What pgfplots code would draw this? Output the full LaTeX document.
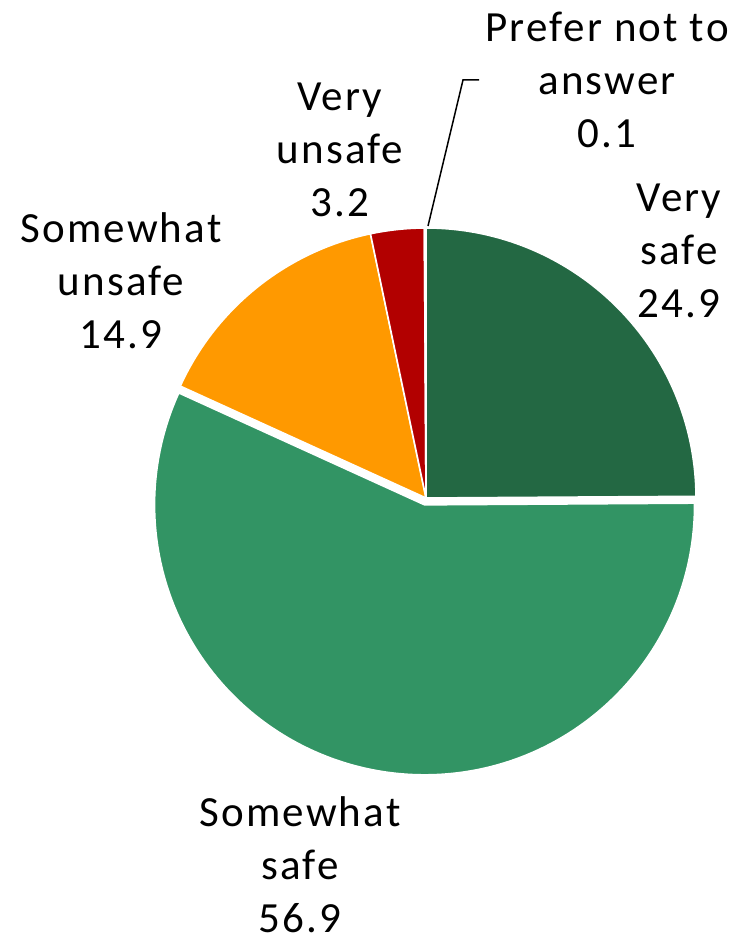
\documentclass[border=0pt]{standalone}
\usepackage{fontspec}
\setmainfont{Carlito}[LetterSpace=5]
\usepackage{pgfplots}
\usepackage{pgfplotstable}
\pgfplotsset{compat=1.18}

\definecolor{vsafe}{HTML}{236843}
\definecolor{swsafe}{HTML}{329464}
\definecolor{swunsafe}{HTML}{FF9900}
\definecolor{vunsafe}{HTML}{B20000}
\definecolor{pnta}{HTML}{7F7F7F}

\pgfplotstableread[col sep=comma]{
name,value
Very safe,24.9
Somewhat safe,56.9
Somewhat unsafe,14.9
Very unsafe,3.2
Prefer not to answer,0.1
}\piedata

\pgfplotstablegetelem{0}{value}\of\piedata \xdef\vA{\pgfplotsretval}
\pgfplotstablegetelem{1}{value}\of\piedata \xdef\vB{\pgfplotsretval}
\pgfplotstablegetelem{2}{value}\of\piedata \xdef\vC{\pgfplotsretval}
\pgfplotstablegetelem{3}{value}\of\piedata \xdef\vD{\pgfplotsretval}
\pgfplotstablegetelem{4}{value}\of\piedata \xdef\vE{\pgfplotsretval}
\pgfmathsetmacro\tot{\vA+\vB+\vC+\vD+\vE}
\pgfmathsetmacro\aZero{90}
\pgfmathsetmacro\aOne{\aZero-\vA/\tot*360}
\pgfmathsetmacro\aTwo{\aOne-\vB/\tot*360}
\pgfmathsetmacro\aThree{\aTwo-\vC/\tot*360}
\pgfmathsetmacro\aFour{\aThree-\vD/\tot*360}
\pgfmathsetmacro\aFive{\aFour-\vE/\tot*360}
\pgfmathsetmacro\midB{(\aOne+\aTwo)/2}
\pgfmathsetmacro\exX{426+7*cos(\midB)}
\pgfmathsetmacro\exY{445+7*sin(\midB)}

\begin{document}
\begin{tikzpicture}
\begin{axis}[hide axis, scale only axis, width=366.5pt, height=471.5pt,
  xmin=0, xmax=733, ymin=0, ymax=943, clip=false]
\path (axis cs:0,0) rectangle (axis cs:733,943);
\def\R{135pt}
\tikzset{slice/.style={draw=white, line width=0.8pt, line join=round}}
\fill[vsafe, slice] (axis cs:426,445) -- ++(\aZero:\R) arc[start angle=\aZero, end angle=\aOne, radius=\R] -- cycle;
\fill[swsafe, slice] (axis cs:\exX,\exY) -- ++(\aOne:\R) arc[start angle=\aOne, end angle=\aTwo, radius=\R] -- cycle;
\fill[swunsafe, slice] (axis cs:426,445) -- ++(\aTwo:\R) arc[start angle=\aTwo, end angle=\aThree, radius=\R] -- cycle;
\fill[vunsafe, slice] (axis cs:426,445) -- ++(\aThree:\R) arc[start angle=\aThree, end angle=\aFour, radius=\R] -- cycle;
\fill[pnta, slice] (axis cs:426,445) -- ++(\aFour:\R) arc[start angle=\aFour, end angle=\aFive, radius=\R] -- cycle;
\draw[black, line width=0.75pt] (axis cs:428,717) -- (axis cs:463,863) -- (axis cs:479,863);
\tikzset{lbl/.style={align=center, inner sep=0pt, font=\fontsize{21.5}{26.5}\selectfont}}
\node[lbl] at (axis cs:607,863) {Prefer not to\\answer\\0.1};
\node[lbl] at (axis cs:340,793) {Very\\unsafe\\3.2};
\node[lbl] at (axis cs:121,662) {Somewhat\\unsafe\\14.9};
\node[lbl] at (axis cs:679,692) {Very\\safe\\24.9};
\node[lbl] at (axis cs:300,78) {Somewhat\\safe\\56.9};
\end{axis}
\end{tikzpicture}
\end{document}
